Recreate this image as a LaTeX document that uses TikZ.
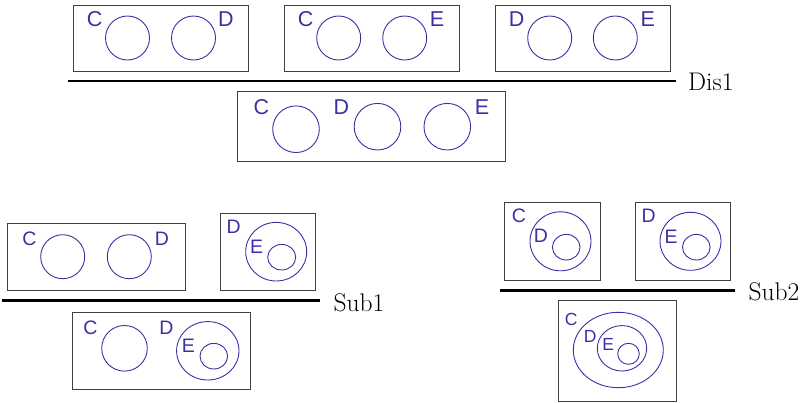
\documentclass[tikz,border=0pt]{standalone}
\usepackage{fontspec}
\newfontfamily\labsans{Liberation Sans}
\definecolor{setblue}{RGB}{58,48,165}
\tikzset{
  box/.style={draw=black!75, line width=0.9pt},
  setc/.style={draw=setblue, line width=0.9pt},
  lab/.style={text=setblue, inner sep=0pt, font=\labsans\fontsize{21.5}{21.5}\selectfont},
  labs/.style={text=setblue, inner sep=0pt, font=\labsans\fontsize{19.5}{19.5}\selectfont},
  labt/.style={text=setblue, inner sep=0pt, font=\labsans\fontsize{17.5}{17.5}\selectfont},
  bar/.style={draw=black, line width=2.8pt},
  rulelab/.style={anchor=west, inner sep=0pt, font=\fontsize{25.5}{30}\selectfont}
}
\begin{document}
\begin{tikzpicture}[x=1pt,y=-1pt]
\useasboundingbox (0,0) rectangle (810,402);
% ---------------- Dis1 ----------------
\draw[box] (73,5) rectangle (248,71);
\draw[setc] (127.5,38) circle (22);
\draw[setc] (193.5,38) circle (22);
\node[lab] (d1c) at (94.7,19) {C};
\node[lab] (d1d) at (226,19) {D};

\draw[box] (284,5) rectangle (459.5,71);
\draw[setc] (338.7,38) circle (22);
\draw[setc] (404.7,38) circle (22);
\node[lab] (d2c) at (305.7,19) {C};
\node[lab] (d2e) at (437,19) {E};

\draw[box] (495,5) rectangle (670,71);
\draw[setc] (549.7,38) circle (22);
\draw[setc] (615.3,38) circle (22);
\node[lab] (d3d) at (516.7,19) {D};
\node[lab] (d3e) at (647.8,19) {E};

\coordinate (dl) at (68,81);
\coordinate (dr) at (676,81);
\draw[bar] (dl) -- (dr);
\node[rulelab] (dis) at (688,82) {Dis1};

\draw[box] (237.7,91.3) rectangle (505,161.7);
\draw[setc] (296,129.2) circle (23.3);
\draw[setc] (377.5,126.7) circle (23.3);
\draw[setc] (447.3,126.7) circle (23.3);
\node[lab] (d4c) at (261.3,107.5) {C};
\node[lab] (d4d) at (341.3,107.5) {D};
\node[lab] (d4e) at (482,107) {E};

% ---------------- Sub1 ----------------
\draw[box] (7.3,223.3) rectangle (185,290);
\draw[setc] (62.7,256.7) circle (22);
\draw[setc] (129.3,256.7) circle (22);
\node[labs] (s1c) at (29.3,238.3) {C};
\node[labs] (s1d) at (162,238.3) {D};

\draw[box] (220.3,213.3) rectangle (315.3,290);
\draw[setc] (276.2,251.7) ellipse (30.5 and 29.3);
\draw[setc] (281.7,257.2) ellipse (14 and 12.8);
\node[labs] (s2d) at (233.7,226.7) {D};
\node[labs] (s2e) at (256.7,246.7) {E};

\coordinate (sl) at (2.3,300.7);
\coordinate (sr) at (320,300.7);
\draw[bar] (sl) -- (sr);
\node[rulelab] (sub1) at (333.3,302.5) {Sub1};

\draw[box] (72.3,312) rectangle (250,389.3);
\draw[setc] (124.5,348.3) circle (22.8);
\draw[setc] (207.8,350.8) ellipse (31.2 and 29.2);
\draw[setc] (213.8,356.2) ellipse (13.8 and 12.8);
\node[labs] (s3c) at (90.3,327.5) {C};
\node[labs] (s3d) at (166.3,327.5) {D};
\node[labs] (s3e) at (188.3,346.2) {E};

% ---------------- Sub2 ----------------
\draw[box] (504.7,202.3) rectangle (600,280);
\draw[setc] (560.5,241.3) ellipse (30.5 and 29.5);
\draw[setc] (566.2,247.2) ellipse (13.8 and 12.8);
\node[labs] (t1c) at (518.8,216.2) {C};
\node[labs] (t1d) at (540.8,235.8) {D};

\draw[box] (635,202.3) rectangle (730.7,280);
\draw[setc] (690.5,241.3) ellipse (30.5 and 29);
\draw[setc] (696.3,247.2) ellipse (13.8 and 12.8);
\node[labs] (t2d) at (648.7,215.8) {D};
\node[labs] (t2e) at (671.2,237.2) {E};

\coordinate (tl) at (500,290.7);
\coordinate (tr) at (735,290.7);
\draw[bar] (tl) -- (tr);
\node[rulelab] (sub2) at (748.3,291.7) {Sub2};

\draw[box] (558.3,300) rectangle (676,401);
\draw[setc] (618.3,350) ellipse (45 and 37.7);
\draw[setc] (622,348.3) ellipse (24.7 and 22.7);
\draw[setc] (628.5,353.8) ellipse (10.8 and 10.5);
\node[labt] (t3c) at (571.2,319.5) {C};
\node[labt] (t3d) at (590.2,336.3) {D};
\node[labt] (t3e) at (608.3,344.7) {E};
\end{tikzpicture}
\end{document}
